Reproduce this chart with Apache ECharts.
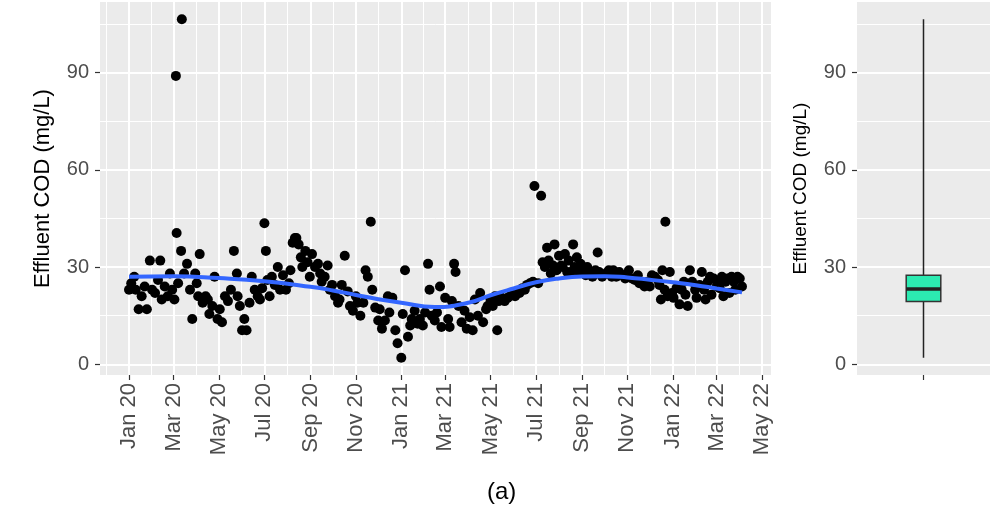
<!DOCTYPE html>
<html>
<head>
<meta charset="utf-8">
<script src="https://cdn.jsdelivr.net/npm/echarts@6/dist/echarts.min.js"></script>
<style>
html, body { margin: 0; padding: 0; background: #fff; }
#chart { width: 990px; height: 513px; }
</style>
</head>
<body>
<div id="chart"></div>
<script>
// effluent COD samples
var codDates = [
    '2020-01-01','2020-01-04','2020-01-08','2020-01-10','2020-01-14','2020-01-18','2020-01-22','2020-01-25','2020-01-29',
    '2020-02-01','2020-02-05','2020-02-09','2020-02-12','2020-02-14','2020-02-18','2020-02-22','2020-02-25','2020-02-28',
    '2020-03-02','2020-03-04','2020-03-05','2020-03-07','2020-03-11','2020-03-12','2020-03-15','2020-03-19','2020-03-23','2020-03-26','2020-03-30',
    '2020-04-01','2020-04-03','2020-04-05','2020-04-09','2020-04-13','2020-04-16','2020-04-18','2020-04-22','2020-04-25','2020-04-29',
    '2020-05-02','2020-05-05','2020-05-09','2020-05-13','2020-05-17','2020-05-21','2020-05-25','2020-05-26','2020-05-29',
    '2020-06-01','2020-06-04','2020-06-07','2020-06-11','2020-06-14','2020-06-18','2020-06-22','2020-06-25','2020-06-28',
    '2020-07-01','2020-07-03','2020-07-05','2020-07-08','2020-07-11','2020-07-15','2020-07-19','2020-07-22','2020-07-26','2020-07-30',
    '2020-08-03','2020-08-05','2020-08-08','2020-08-11','2020-08-13','2020-08-16','2020-08-19','2020-08-21','2020-08-25','2020-08-28','2020-08-31',
    '2020-09-03','2020-09-07','2020-09-11','2020-09-14','2020-09-16','2020-09-20','2020-09-24','2020-09-27','2020-09-30',
    '2020-10-04','2020-10-08','2020-10-10','2020-10-13','2020-10-17','2020-10-21','2020-10-24','2020-10-28',
    '2020-11-01','2020-11-03','2020-11-07','2020-11-11','2020-11-14','2020-11-17','2020-11-21','2020-11-23','2020-11-27',
    '2020-12-01','2020-12-03','2020-12-06','2020-12-10','2020-12-14','2020-12-16','2020-12-20','2020-12-24','2020-12-27',
    '2021-01-01','2021-01-03','2021-01-06','2021-01-10','2021-01-13','2021-01-15','2021-01-19','2021-01-23','2021-01-26','2021-01-30',
    '2021-02-02','2021-02-06','2021-02-08','2021-02-11','2021-02-15','2021-02-18','2021-02-22','2021-02-24',
    '2021-03-01','2021-03-05','2021-03-07','2021-03-10','2021-03-13','2021-03-15','2021-03-19','2021-03-23','2021-03-27','2021-03-30',
    '2021-04-03','2021-04-07','2021-04-10','2021-04-14','2021-04-17','2021-04-21','2021-04-25','2021-04-27',
    '2021-05-01','2021-05-04','2021-05-07','2021-05-10','2021-05-12','2021-05-16','2021-05-20','2021-05-24','2021-05-27',
    '2021-06-01','2021-06-03','2021-06-07','2021-06-09','2021-06-13','2021-06-16','2021-06-19','2021-06-23','2021-06-27','2021-06-29',
    '2021-07-04','2021-07-08','2021-07-10','2021-07-13','2021-07-16','2021-07-18','2021-07-21','2021-07-24','2021-07-26','2021-07-29',
    '2021-08-01','2021-08-04','2021-08-06','2021-08-09','2021-08-12','2021-08-14','2021-08-17','2021-08-20','2021-08-22','2021-08-25','2021-08-28','2021-08-30',
    '2021-09-03','2021-09-06','2021-09-08','2021-09-12','2021-09-15','2021-09-19','2021-09-22','2021-09-24','2021-09-28',
    '2021-10-03','2021-10-07','2021-10-11','2021-10-13','2021-10-17','2021-10-21','2021-10-25','2021-10-29',
    '2021-11-03','2021-11-07','2021-11-11','2021-11-15','2021-11-17','2021-11-21','2021-11-24','2021-11-28',
    '2021-12-01','2021-12-04','2021-12-08','2021-12-12','2021-12-14','2021-12-16','2021-12-18','2021-12-21','2021-12-22','2021-12-25','2021-12-28','2021-12-31',
    '2022-01-02','2022-01-06','2022-01-10','2022-01-13','2022-01-16','2022-01-18','2022-01-21','2022-01-24','2022-01-27','2022-01-31',
    '2022-02-02','2022-02-06','2022-02-09','2022-02-12','2022-02-14','2022-02-17','2022-02-20','2022-02-22','2022-02-25',
    '2022-03-01','2022-03-02','2022-03-05','2022-03-08','2022-03-10','2022-03-13','2022-03-16','2022-03-18','2022-03-21','2022-03-24','2022-03-26','2022-03-29',
    '2022-04-01','2022-04-04'
];
var codValues = [
    23, 25, 27, 23, 17, 21, 24, 17, 32,
    23, 22, 26, 32, 20, 24, 21, 28, 23,
    20, 89, 40.5, 25, 35, 106.5, 28, 31, 23, 14, 28,
    25, 21, 34, 19, 21, 20, 15.5, 18, 27, 14,
    17, 13, 21, 19.5, 23, 35, 28, 21, 18,
    10.5, 14, 10.5, 19, 27, 23, 21, 20, 23.5,
    43.5, 35, 26, 21, 27, 24.5, 30, 23, 27.5, 23,
    25, 29, 37.5, 39, 39, 37, 33, 30, 35, 31.5, 27,
    34, 30, 31, 28, 25.5, 27, 30.5, 23, 24.5,
    21, 19, 20, 24.5, 33.5, 22.5, 18, 16.5,
    21, 19, 15, 19, 29, 27, 44, 23, 17.5,
    13.5, 17, 11, 13.5, 21, 16, 20.5, 10.5, 6.5,
    2, 15.5, 29, 8.5, 12, 14, 16.5, 12.5, 14, 12,
    16, 31, 23, 15, 13.5, 16, 24, 11.5,
    20.5, 14, 11.5, 19.5, 31, 28.5, 18, 13, 16.5, 11,
    14.5, 10.5, 20, 15, 22, 13, 17, 18,
    20, 18, 21, 10.5, 19.5, 20.5, 19.5, 20.5, 21,
    21.5, 21, 22, 22, 23.5, 23, 24.5, 25, 25.5, 55,
    25, 52, 31.5, 30, 36, 32, 28, 30.5, 37, 29,
    33.5, 30.5, 30, 34, 28.5, 32, 28.5, 37, 30, 33, 28.5, 31,
    29, 27.5, 30, 28.5, 27, 29, 34.5, 28.5, 27,
    28, 29, 27, 29, 27, 28.5, 27.5, 26.5,
    29, 26.5, 26, 27.5, 25, 25, 24, 25.5,
    24, 27.5, 27, 26, 24.5, 20, 29, 23, 44, 21, 28.5, 22,
    20.5, 23.5, 18.5, 23, 25.5, 21.5, 18, 29, 25.5, 23,
    20.5, 24.5, 28.5, 23, 20, 25.5, 27, 21.5, 26.5,
    24, 25, 23.5, 27, 21, 25.5, 26.5, 22, 27, 25.5, 23, 27,
    26.5, 24
];

// loess trend (blue line)
var trendDates = ['2020-01-01','2020-03-01','2020-05-01','2020-07-01','2020-09-01','2020-10-01','2020-11-01','2020-12-01',
    '2021-01-01','2021-02-15','2021-04-01','2021-05-01','2021-06-01','2021-07-01','2021-08-01','2021-09-01','2021-10-01',
    '2021-11-01','2021-12-01','2022-01-01','2022-02-01','2022-03-01','2022-04-04'];
var trendValues = [27, 27.2, 26.6, 25.6, 23.9, 22.8, 21.4, 20.1,
    19, 17.7, 19, 21.3, 23.4, 25.3, 26.5, 27.1, 27.2,
    26.8, 26.1, 25.3, 24.4, 23.4, 22.2];

// boxplot: min, q1, median, q3, max
var boxStats = [2, 19.4, 23.2, 27.5, 106.5];

var monthNames = ['Jan','Feb','Mar','Apr','May','Jun','Jul','Aug','Sep','Oct','Nov','Dec'];
var tickMonths = ['2020-01','2020-03','2020-05','2020-07','2020-09','2020-11','2021-01','2021-03',
    '2021-05','2021-07','2021-09','2021-11','2022-01','2022-03','2022-05'];
var yTicks = [0, 30, 60, 90];
var yMinor = [15, 45, 75, 105];

var toTime = function (s) {
    var p = s.split('-');
    return new Date(+p[0], +p[1] - 1, p[2] ? +p[2] : 1).getTime();
};

var tickTimes = [];
for (var i = 0; i < tickMonths.length; ++i) {
    tickTimes.push(toTime(tickMonths[i]));
}
var xMin = toTime('2019-11-23');
var xMax = toTime('2022-05-13');

var points = [];
for (var i = 0; i < codDates.length; ++i) {
    points.push([toTime(codDates[i]), codValues[i]]);
}
var trend = [];
for (var i = 0; i < trendDates.length; ++i) {
    trend.push([toTime(trendDates[i]), trendValues[i]]);
}

// panel grid lines
var major = { color: '#fff', width: 2, type: 'solid' };
var minor = { color: '#fff', width: 1, type: 'solid' };
var gridMain = [];
var gridBox = [];
for (var i = 0; i < tickTimes.length; ++i) {
    gridMain.push({ xAxis: tickTimes[i], lineStyle: major });
    var prev = i == 0 ? tickTimes[0] - (tickTimes[1] - tickTimes[0]) : tickTimes[i - 1];
    var mid = (prev + tickTimes[i]) / 2;
    if (mid > xMin) {
        gridMain.push({ xAxis: mid, lineStyle: minor });
    }
}
for (var i = 0; i < yTicks.length; ++i) {
    gridMain.push({ yAxis: yTicks[i], lineStyle: major });
    gridBox.push({ yAxis: yTicks[i], lineStyle: major });
}
for (var i = 0; i < yMinor.length; ++i) {
    gridMain.push({ yAxis: yMinor[i], lineStyle: minor });
    gridBox.push({ yAxis: yMinor[i], lineStyle: minor });
}

var tickStyle = { color: '#333', width: 1.2 };
var labelColor = '#4D4D4D';

var option = {
    animation: false,
    textStyle: { fontFamily: 'Liberation Sans, Arial, sans-serif' },
    title: {
        text: '(a)',
        left: 482,
        top: 475,
        textStyle: { fontSize: 24, fontWeight: 'normal', color: '#000' }
    },
    grid: [
        { left: 100, top: 2, width: 671, height: 373, show: true, backgroundColor: '#EBEBEB', borderWidth: 0 },
        { left: 857, top: 2, width: 133, height: 373, show: true, backgroundColor: '#EBEBEB', borderWidth: 0 }
    ],
    xAxis: [
        {
            type: 'value',
            gridIndex: 0,
            min: xMin,
            max: xMax,
            axisLine: { show: false, onZero: false },
            splitLine: { show: false },
            axisTick: { show: true, customValues: tickTimes, length: 5, lineStyle: tickStyle },
            axisLabel: {
                customValues: tickTimes,
                rotate: 90,
                color: labelColor,
                fontSize: 22,
                margin: 8,
                formatter: function (v) {
                    var d = new Date(v);
                    return monthNames[d.getMonth()] + ' ' + String(d.getFullYear()).slice(2);
                }
            }
        },
        {
            type: 'category',
            gridIndex: 1,
            data: [''],
            axisLine: { show: false, onZero: false },
            splitLine: { show: false },
            axisTick: { show: true, alignWithLabel: true, length: 5, lineStyle: tickStyle },
            axisLabel: { show: true, color: labelColor }
        }
    ],
    yAxis: [
        {
            type: 'value',
            gridIndex: 0,
            min: -3.3,
            max: 111.8,
            name: 'Effluent COD (mg/L)',
            nameLocation: 'middle',
            nameGap: 46,
            nameTextStyle: { fontSize: 22, color: '#000' },
            axisLine: { show: false },
            splitLine: { show: false },
            axisTick: { show: true, customValues: yTicks, length: 5, lineStyle: tickStyle },
            axisLabel: { customValues: yTicks, color: labelColor, fontSize: 20, margin: 11 }
        },
        {
            type: 'value',
            gridIndex: 1,
            min: -3.3,
            max: 111.8,
            name: 'Effluent COD (mg/L)',
            nameLocation: 'middle',
            nameGap: 47,
            nameTextStyle: { fontSize: 19, color: '#000' },
            axisLine: { show: false },
            splitLine: { show: false },
            axisTick: { show: true, customValues: yTicks, length: 5, lineStyle: tickStyle },
            axisLabel: { customValues: yTicks, color: labelColor, fontSize: 20, margin: 11 }
        }
    ],
    series: [
        {
            type: 'line',
            xAxisIndex: 0,
            yAxisIndex: 0,
            data: [],
            z: 1,
            markLine: { silent: true, z: 1, symbol: ['none', 'none'], label: { show: false }, animation: false, data: gridMain }
        },
        {
            type: 'line',
            xAxisIndex: 1,
            yAxisIndex: 1,
            data: [],
            z: 1,
            markLine: { silent: true, z: 1, symbol: ['none', 'none'], label: { show: false }, animation: false, data: gridBox }
        },
        {
            type: 'scatter',
            xAxisIndex: 0,
            yAxisIndex: 0,
            symbolSize: 10,
            itemStyle: { color: '#000', opacity: 1 },
            data: points,
            z: 3
        },
        {
            type: 'line',
            xAxisIndex: 0,
            yAxisIndex: 0,
            smooth: true,
            showSymbol: false,
            lineStyle: { color: '#3366FF', width: 4 },
            data: trend,
            z: 4
        },
        {
            type: 'custom',
            xAxisIndex: 1,
            yAxisIndex: 1,
            data: [[0].concat(boxStats)],
            z: 3,
            renderItem: function (params, api) {
                var x = api.value(0);
                var pMin = api.coord([x, api.value(1)]);
                var pQ1 = api.coord([x, api.value(2)]);
                var pMed = api.coord([x, api.value(3)]);
                var pQ3 = api.coord([x, api.value(4)]);
                var pMax = api.coord([x, api.value(5)]);
                var half = api.size([1, 0])[0] * 0.13;
                return {
                    type: 'group',
                    children: [
                        { type: 'line', shape: { x1: pMin[0], y1: pMin[1], x2: pMax[0], y2: pMax[1] },
                          style: { stroke: '#222', lineWidth: 1.5 } },
                        { type: 'rect', shape: { x: pQ3[0] - half, y: pQ3[1], width: half * 2, height: pQ1[1] - pQ3[1] },
                          style: { fill: '#2CEAB1', stroke: '#333', lineWidth: 1.5 } },
                        { type: 'line', shape: { x1: pMed[0] - half, y1: pMed[1], x2: pMed[0] + half, y2: pMed[1] },
                          style: { stroke: '#222', lineWidth: 3.5 } }
                    ]
                };
            }
        }
    ]
};

echarts.init(document.getElementById('chart')).setOption(option);
</script>
</body>
</html>
